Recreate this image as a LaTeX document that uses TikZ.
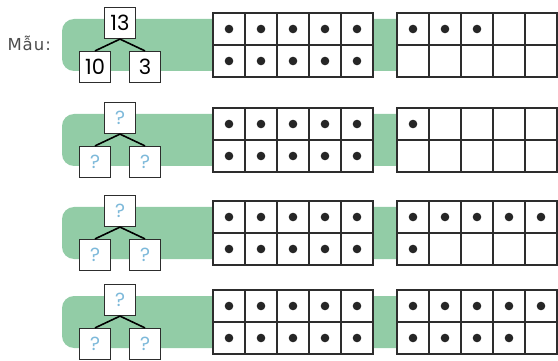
\documentclass[tikz,border=0pt]{standalone}
\usepackage{fontspec}
\setmainfont{DejaVu Sans}
\newfontfamily\numfont{Poppins}
\usetikzlibrary{calc}

\definecolor{bandgreen}{RGB}{146,204,166}
\definecolor{qblue}{RGB}{125,185,218}
\definecolor{linegray}{RGB}{45,45,45}

\tikzset{
  numbox/.style={draw=linegray, line width=1.2pt, fill=white, minimum size=31pt, inner sep=0pt, font=\numfont\fontsize{21}{21}\selectfont},
  qbox/.style={numbox, text=qblue, font=\numfont\fontsize{19}{19}\selectfont},
  band/.style={fill=bandgreen, rounded corners=12pt},
  counter/.style={draw=linegray, line width=1.4pt},
  bead/.style={fill=black!85},
  branch/.style={line width=1.6pt, black}
}

% ten-frame: left x, centre y, number of beads
\newcommand\tenframe[3]{%
  \filldraw[counter, fill=white] (#1,#2-32) rectangle ++(160,64);
  \draw[counter] (#1,#2) -- ++(160,0);
  \foreach \i in {1,...,4} \draw[counter] (#1+32*\i,#2-32) -- ++(0,64);
  \foreach \k in {1,...,#3} {
    \pgfmathtruncatemacro\col{mod(\k-1,5)}
    \pgfmathtruncatemacro\row{(\k-1)/5}
    \fill[bead] (#1+16+32*\col,#2-16+32*\row) circle[radius=4.3pt];
  }%
}

\begin{document}
\begin{tikzpicture}[x=1pt, y=-1pt]
  \useasboundingbox (0,0) rectangle (558,361);

  % model row
  \node[anchor=west, text=black!70, font=\addfontfeatures{LetterSpace=6}\fontsize{16.5}{16.5}\selectfont] (mau) at (4,43) {Mẫu:};
  \fill[band] (62,45-26) rectangle (558,45+26);
  \tenframe{213}{45}{10}
  \tenframe{397}{45}{3}
  \node[numbox] (t1) at (120,23) {13};
  \node[numbox] (l1) at (95,67) {10};
  \node[numbox] (r1) at (145,67) {3};
  \draw[branch] (t1.south) -- (l1.north);
  \draw[branch] (t1.south) -- (r1.north);

  % exercise rows
  \foreach \n/\cy/\beads in {2/140/1, 3/233/6, 4/322/9} {
    \fill[band] (62,\cy-26) rectangle (558,\cy+26);
    \tenframe{213}{\cy}{10}
    \tenframe{397}{\cy}{\beads}
    \node[qbox] (t\n) at (120,\cy-22) {?};
    \node[qbox] (l\n) at (95,\cy+22) {?};
    \node[qbox] (r\n) at (145,\cy+22) {?};
    \draw[branch] (t\n.south) -- (l\n.north);
    \draw[branch] (t\n.south) -- (r\n.north);
  }
\end{tikzpicture}
\end{document}
